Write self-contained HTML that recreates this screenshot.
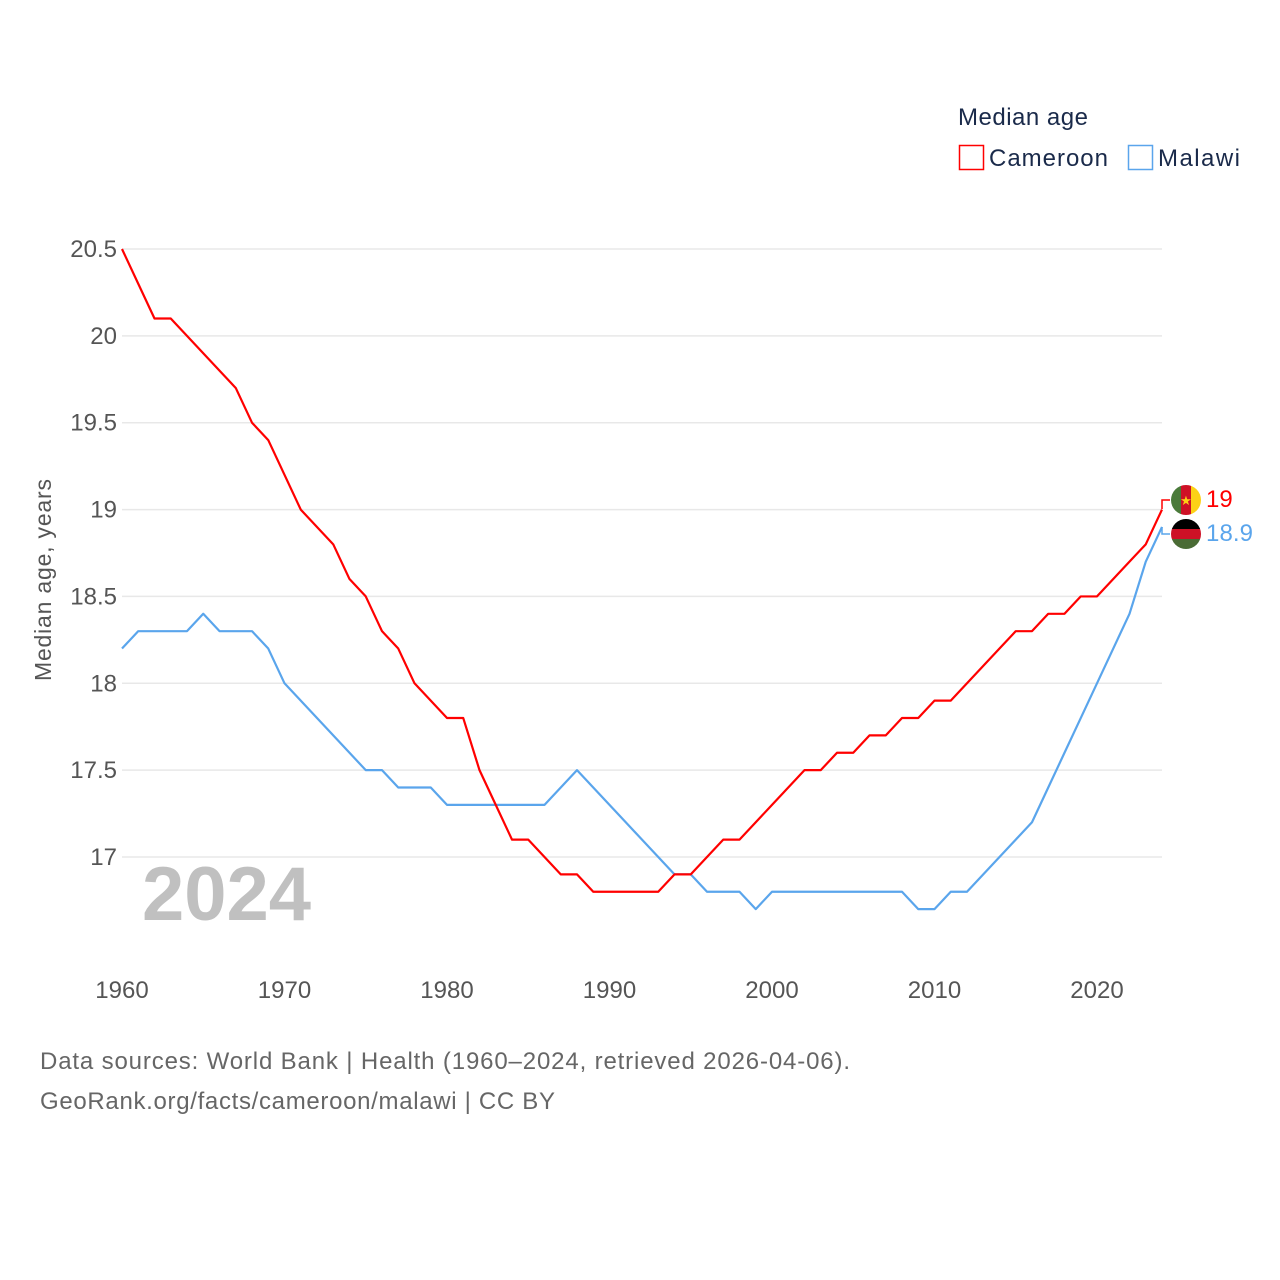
<!DOCTYPE html>
<html><head><meta charset="utf-8"><style>
body{margin:0;background:#fff;}
svg{display:block;font-family:"Liberation Sans",sans-serif;}
</style></head><body>
<svg id="chart" width="1280" height="1280" viewBox="0 0 1280 1280">
<g id="grid"></g>
<g id="yticks"></g>
<g id="xticks"></g>
<text x="51" y="580" transform="rotate(-90 51 580)" text-anchor="middle" font-size="23" fill="#555" textLength="202">Median age, years</text>
<text x="142" y="920" font-size="76" font-weight="bold" fill="#c0c0c0">2024</text>
<g id="lines"></g>
<g>
<text x="958" y="125" font-size="24" fill="#1a2a4a" textLength="130">Median age</text>
<g><rect x="959.5" y="145.5" width="24" height="24" fill="none" stroke="#ff0000" stroke-width="1.5"/><text x="989" y="166" font-size="24" fill="#1a2a4a" textLength="119">Cameroon</text></g>
<g><rect x="1128.5" y="145.5" width="24" height="24" fill="none" stroke="#5aa5ec" stroke-width="1.5"/><text x="1158" y="166" font-size="24" fill="#1a2a4a" textLength="82">Malawi</text></g>
</g>
<g>
<path d="M1162 509 V500 H1170" stroke="#ff0000" fill="none" stroke-width="1.5"/>
<path d="M1162 527 V534 H1170" stroke="#5aa5ec" fill="none" stroke-width="1.5"/>
<g>
<clipPath id="c1"><circle cx="1186" cy="500" r="15"/></clipPath>
<g clip-path="url(#c1)"><rect x="1171" y="485" width="10" height="30" fill="#4a7a3a"/><rect x="1181" y="485" width="10" height="30" fill="#ce1126"/><rect x="1191" y="485" width="10" height="30" fill="#fcd116"/></g>
<text x="1186" y="505" font-size="13" fill="#fcd116" text-anchor="middle">★</text></g>
<g>
<clipPath id="c2"><circle cx="1186" cy="534" r="15"/></clipPath>
<g clip-path="url(#c2)"><rect x="1171" y="519" width="30" height="10" fill="#000"/><rect x="1171" y="529" width="30" height="10" fill="#ce1126"/><rect x="1171" y="539" width="30" height="10" fill="#4a6b35"/></g></g>
<text x="1206" y="507" font-size="24" fill="#ff0000">19</text>
<text x="1206" y="541" font-size="24" fill="#5aa5ec" textLength="47">18.9</text>
</g>
<text x="40" y="1069" font-size="24" fill="#666" textLength="810">Data sources: World Bank | Health (1960–2024, retrieved 2026-04-06).</text>
<text x="40" y="1109" font-size="24" fill="#666" textLength="515">GeoRank.org/facts/cameroon/malawi | CC BY</text>
</svg>
<script>
const years = [];
for (let y = 1960; y <= 2024; y++) years.push(y);
const cameroon = [20.5,20.3,20.1,20.1,20.0,19.9,19.8,19.7,19.5,19.4,19.2,19.0,18.9,18.8,18.6,18.5,18.3,18.2,18.0,17.9,17.8,17.8,17.5,17.3,17.1,17.1,17.0,16.9,16.9,16.8,16.8,16.8,16.8,16.8,16.9,16.9,17.0,17.1,17.1,17.2,17.3,17.4,17.5,17.5,17.6,17.6,17.7,17.7,17.8,17.8,17.9,17.9,18.0,18.1,18.2,18.3,18.3,18.4,18.4,18.5,18.5,18.6,18.7,18.8,19.0];
const malawi = [18.2,18.3,18.3,18.3,18.3,18.4,18.3,18.3,18.3,18.2,18.0,17.9,17.8,17.7,17.6,17.5,17.5,17.4,17.4,17.4,17.3,17.3,17.3,17.3,17.3,17.3,17.3,17.4,17.5,17.4,17.3,17.2,17.1,17.0,16.9,16.9,16.8,16.8,16.8,16.7,16.8,16.8,16.8,16.8,16.8,16.8,16.8,16.8,16.8,16.7,16.7,16.8,16.8,16.9,17.0,17.1,17.2,17.4,17.6,17.8,18.0,18.2,18.4,18.7,18.9];
const yTicks = [17,17.5,18,18.5,19,19.5,20,20.5];
const yTickLabels = ["17","17.5","18","18.5","19","19.5","20","20.5"];
const xTicks = [1960,1970,1980,1990,2000,2010,2020];
const NS = "http://www.w3.org/2000/svg";
const xS = v => 122 + (v - 1960) * (975 / 60);
const yS = v => 249 + (20.5 - v) * (608 / 3.5);
const grid = document.getElementById('grid'), yt = document.getElementById('yticks'), xt = document.getElementById('xticks'), lines = document.getElementById('lines');
yTicks.forEach((v, i) => {
  const l = document.createElementNS(NS, 'line');
  l.setAttribute('x1', 122); l.setAttribute('x2', 1162);
  l.setAttribute('y1', yS(v)); l.setAttribute('y2', yS(v));
  l.setAttribute('stroke', '#e8e8e8'); l.setAttribute('stroke-width', '1.5');
  
  
  grid.appendChild(l);
  const t = document.createElementNS(NS, 'text');
  t.setAttribute('x', 117); t.setAttribute('y', yS(v) + 8);
  t.setAttribute('text-anchor', 'end'); t.setAttribute('font-size', '24'); t.setAttribute('fill', '#555');
  t.textContent = yTickLabels[i];
  
  
  yt.appendChild(t);
});
xTicks.forEach(v => {
  const t = document.createElementNS(NS, 'text');
  t.setAttribute('x', xS(v)); t.setAttribute('y', 998);
  t.setAttribute('text-anchor', 'middle'); t.setAttribute('font-size', '24'); t.setAttribute('fill', '#555');
  t.textContent = v;
  
  
  xt.appendChild(t);
});
function draw(vals, color, name) {
  const p = document.createElementNS(NS, 'polyline');
  p.setAttribute('points', vals.map((v, i) => xS(years[i]) + ',' + yS(v)).join(' '));
  p.setAttribute('fill', 'none'); p.setAttribute('stroke', color); p.setAttribute('stroke-width', '2.2');
  p.setAttribute('stroke-linejoin', 'round');
  
  
  lines.appendChild(p);
}
draw(malawi, '#5aa5ec', 'malawi-line');
draw(cameroon, '#ff0000', 'cameroon-line');
</script>
</body></html>
